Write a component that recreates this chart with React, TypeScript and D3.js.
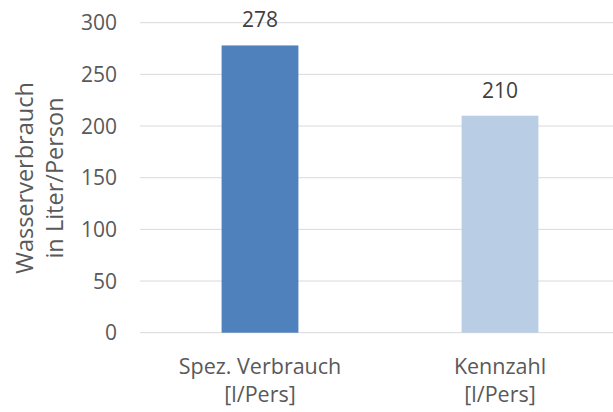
import React from "react";
import * as d3 from "d3";

const categories: string[][] = [["Spez. Verbrauch", "[l/Pers]"], ["Kennzahl", "[l/Pers]"]];
const values: number[] = [278, 210];
const barColors: string[] = ["#4F81BD", "#B9CDE5"];
const yTicks: number[] = [0, 50, 100, 150, 200, 250, 300];
const yTitle: string[] = ["Wasserverbrauch", "in Liter/Person"];

const W = 613;
const H = 412;
const FONT = "'Open Sans', sans-serif";
const TEXT = "#595959";

export default function App() {
  const x = d3
    .scaleBand<number>()
    .domain(values.map((_, i) => i))
    .range([140, 620])
    .paddingInner(0.68)
    .paddingOuter(0.34);
  const y = d3.scaleLinear().domain([0, 300]).range([332.7, 22.7]);

  return (
    <svg
      width={W}
      height={H}
      style={{ position: "absolute", left: 0, top: 0, background: "#fff" }}
      fontFamily={FONT}
    >
      {yTicks.map((t) => (
        <g key={t}>
          <line x1={140} x2={W} y1={y(t)} y2={y(t)} stroke="#D9D9D9" strokeWidth={1} />
          <text x={117} y={y(t)} dy="0.36em" textAnchor="end" fontSize={21} fill={TEXT}>
            {t}
          </text>
        </g>
      ))}
      {values.map((v, i) => (
        <g key={i}>
          <rect x={x(i)} y={y(v)} width={x.bandwidth()} height={y(0) - y(v)} fill={barColors[i]} />
          <text
            x={(x(i) as number) + x.bandwidth() / 2}
            y={y(v) - 18}
            textAnchor="middle"
            fontSize={21}
            fill="#404040"
          >
            {v}
          </text>
          {categories[i].map((line, j) => (
            <text
              key={j}
              x={(x(i) as number) + x.bandwidth() / 2}
              y={374 + j * 28}
              textAnchor="middle"
              fontSize={21.5}
              fill={TEXT}
            >
              {line}
            </text>
          ))}
        </g>
      ))}
      {yTitle.map((line, j) => (
        <text
          key={j}
          transform={`translate(${33 + j * 30},178) rotate(-90)`}
          textAnchor="middle"
          fontSize={23.5}
          fill={TEXT}
        >
          {line}
        </text>
      ))}
    </svg>
  );
}
